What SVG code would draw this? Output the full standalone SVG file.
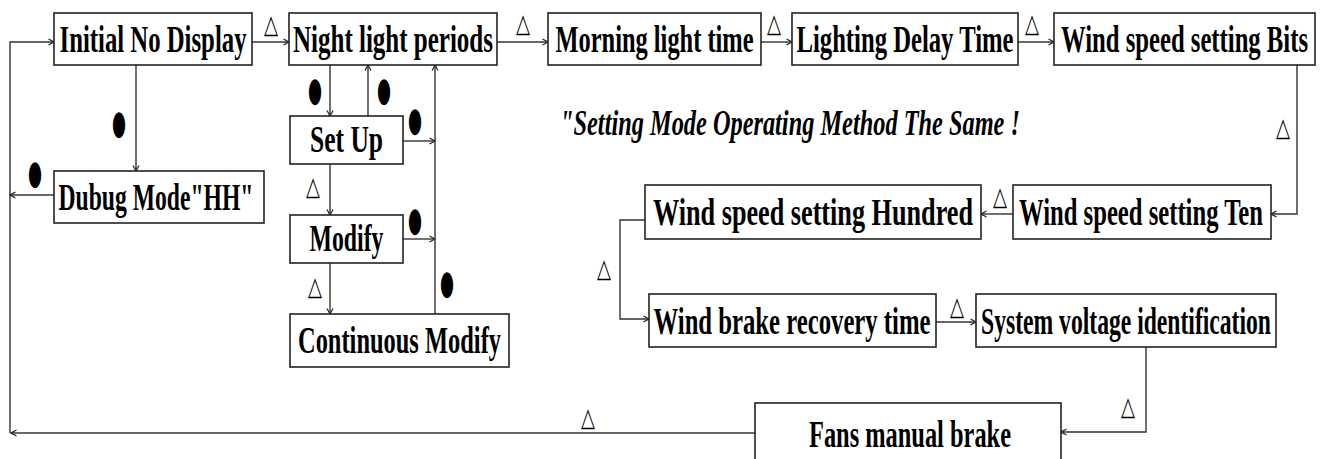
<svg xmlns="http://www.w3.org/2000/svg" width="1323" height="459" viewBox="0 0 1323 459">
<style>
.box{fill:#fff;stroke:#222;stroke-width:1.6}
.lbl{font-family:"Liberation Serif","Times New Roman",serif;font-weight:bold;font-size:38px;fill:#000;text-anchor:middle}
.note{font-family:"Liberation Serif","Times New Roman",serif;font-weight:bold;font-style:italic;font-size:35px;fill:#000}
.c{fill:none;stroke:#333;stroke-width:1.4}
.tri{font-family:"DejaVu Sans",sans-serif;font-size:26px;fill:#000;text-anchor:middle}
.dot{font-family:"DejaVu Sans",sans-serif;font-size:34px;fill:#000;text-anchor:middle}
</style>
<defs>
<marker id="ar" markerWidth="8" markerHeight="8" refX="6.5" refY="4" orient="auto" markerUnits="userSpaceOnUse">
<path d="M1,1 L6.5,4 L1,7" fill="none" stroke="#222" stroke-width="1.2"/>
</marker>
</defs>
<rect width="1323" height="459" fill="#fff"/>

<g id="connectors">
<polyline class="c" points="755,433 11,433" marker-end="url(#ar)"/>
<polyline class="c" points="10,433 10,42 54,42" marker-end="url(#ar)"/>
<line class="c" x1="252" y1="42" x2="289" y2="42" marker-end="url(#ar)"/>
<line class="c" x1="497" y1="42" x2="548" y2="42" marker-end="url(#ar)"/>
<line class="c" x1="761" y1="42" x2="792" y2="42" marker-end="url(#ar)"/>
<line class="c" x1="1018" y1="42" x2="1054" y2="42" marker-end="url(#ar)"/>
<polyline class="c" points="1297,65 1297,214 1271,214" marker-end="url(#ar)"/>
<line class="c" x1="1013" y1="214" x2="981" y2="214" marker-end="url(#ar)"/>
<polyline class="c" points="645,220 620,220 620,319 649,319" marker-end="url(#ar)"/>
<line class="c" x1="936" y1="322" x2="976" y2="322" marker-end="url(#ar)"/>
<polyline class="c" points="1146,347 1146,432 1061,432" marker-end="url(#ar)"/>
<line class="c" x1="136" y1="65" x2="136" y2="171" marker-end="url(#ar)"/>
<line class="c" x1="54" y1="195" x2="10" y2="195" marker-end="url(#ar)"/>
<line class="c" x1="330" y1="65" x2="330" y2="116" marker-end="url(#ar)"/>
<line class="c" x1="368" y1="116" x2="368" y2="65" marker-end="url(#ar)"/>
<line class="c" x1="403" y1="141" x2="435" y2="141" marker-end="url(#ar)"/>
<line class="c" x1="403" y1="239" x2="435" y2="239" marker-end="url(#ar)"/>
<line class="c" x1="435" y1="314" x2="435" y2="65" marker-end="url(#ar)"/>
<line class="c" x1="330" y1="164" x2="330" y2="215" marker-end="url(#ar)"/>
<line class="c" x1="330" y1="263" x2="330" y2="314" marker-end="url(#ar)"/>
</g>

<g id="marks">
<text class="tri" x="271" y="33" textLength="14" lengthAdjust="spacingAndGlyphs">△</text>
<text class="tri" x="523" y="32" textLength="14" lengthAdjust="spacingAndGlyphs">△</text>
<text class="tri" x="774" y="32" textLength="14" lengthAdjust="spacingAndGlyphs">△</text>
<text class="tri" x="1032" y="32" textLength="14" lengthAdjust="spacingAndGlyphs">△</text>
<text class="tri" x="1283" y="136" textLength="14" lengthAdjust="spacingAndGlyphs">△</text>
<text class="tri" x="1000" y="205" textLength="14" lengthAdjust="spacingAndGlyphs">△</text>
<text class="tri" x="604" y="277" textLength="14" lengthAdjust="spacingAndGlyphs">△</text>
<text class="tri" x="957" y="315" textLength="14" lengthAdjust="spacingAndGlyphs">△</text>
<text class="tri" x="1128" y="415" textLength="14" lengthAdjust="spacingAndGlyphs">△</text>
<text class="tri" x="588" y="426" textLength="14" lengthAdjust="spacingAndGlyphs">△</text>
<text class="tri" x="313" y="195" textLength="14" lengthAdjust="spacingAndGlyphs">△</text>
<text class="tri" x="315" y="295" textLength="14" lengthAdjust="spacingAndGlyphs">△</text>
<text class="dot" x="119" y="134" textLength="14" lengthAdjust="spacingAndGlyphs">●</text>
<text class="dot" x="35" y="184" textLength="14" lengthAdjust="spacingAndGlyphs">●</text>
<text class="dot" x="315" y="101" textLength="14" lengthAdjust="spacingAndGlyphs">●</text>
<text class="dot" x="384" y="101" textLength="14" lengthAdjust="spacingAndGlyphs">●</text>
<text class="dot" x="415" y="131" textLength="14" lengthAdjust="spacingAndGlyphs">●</text>
<text class="dot" x="415" y="231" textLength="14" lengthAdjust="spacingAndGlyphs">●</text>
<text class="dot" x="447" y="294" textLength="14" lengthAdjust="spacingAndGlyphs">●</text>
</g>

<g id="initial"><rect class="box" x="54" y="13" width="198" height="52"/><text class="lbl" x="153" y="52" textLength="187" lengthAdjust="spacingAndGlyphs">Initial No Display</text></g>
<g id="night"><rect class="box" x="289" y="13" width="208" height="52"/><text class="lbl" x="393" y="52" textLength="200" lengthAdjust="spacingAndGlyphs">Night light periods</text></g>
<g id="morning"><rect class="box" x="548" y="13" width="213" height="52"/><text class="lbl" x="654.5" y="52" textLength="198" lengthAdjust="spacingAndGlyphs">Morning light time</text></g>
<g id="delay"><rect class="box" x="792" y="13" width="226" height="52"/><text class="lbl" x="905" y="52" textLength="217" lengthAdjust="spacingAndGlyphs">Lighting Delay Time</text></g>
<g id="bits"><rect class="box" x="1054" y="13" width="261" height="52"/><text class="lbl" x="1184.5" y="52" textLength="247" lengthAdjust="spacingAndGlyphs">Wind speed setting Bits</text></g>
<g id="debug"><rect class="box" x="54" y="171" width="210" height="52"/><text class="lbl" x="156" y="210" textLength="195" lengthAdjust="spacingAndGlyphs">Dubug Mode"HH"</text></g>
<g id="setup"><rect class="box" x="290" y="116" width="113" height="48"/><text class="lbl" x="346.5" y="152" textLength="73" lengthAdjust="spacingAndGlyphs">Set Up</text></g>
<g id="modify"><rect class="box" x="290" y="215" width="113" height="48"/><text class="lbl" x="346.5" y="251" textLength="74" lengthAdjust="spacingAndGlyphs">Modify</text></g>
<g id="continuous"><rect class="box" x="290" y="314" width="219" height="53"/><text class="lbl" x="399.5" y="353" textLength="203" lengthAdjust="spacingAndGlyphs">Continuous Modify</text></g>
<g id="hundred"><rect class="box" x="645" y="185" width="336" height="54"/><text class="lbl" x="813" y="225" textLength="320" lengthAdjust="spacingAndGlyphs">Wind speed setting Hundred</text></g>
<g id="ten"><rect class="box" x="1013" y="185" width="258" height="54"/><text class="lbl" x="1141" y="225" textLength="244" lengthAdjust="spacingAndGlyphs">Wind speed setting Ten</text></g>
<g id="brake"><rect class="box" x="649" y="294" width="287" height="53"/><text class="lbl" x="792" y="334" textLength="277" lengthAdjust="spacingAndGlyphs">Wind brake recovery time</text></g>
<g id="voltage"><rect class="box" x="976" y="294" width="300" height="53"/><text class="lbl" x="1126" y="334" textLength="290" lengthAdjust="spacingAndGlyphs">System voltage identification</text></g>
<g id="fans"><rect class="box" x="755" y="403" width="306" height="57"/><text class="lbl" x="910" y="447" textLength="202" lengthAdjust="spacingAndGlyphs">Fans manual brake</text></g>

<g id="note"><text class="note" x="560" y="135" textLength="460" lengthAdjust="spacingAndGlyphs">"Setting Mode Operating Method The Same !</text></g>
</svg>
